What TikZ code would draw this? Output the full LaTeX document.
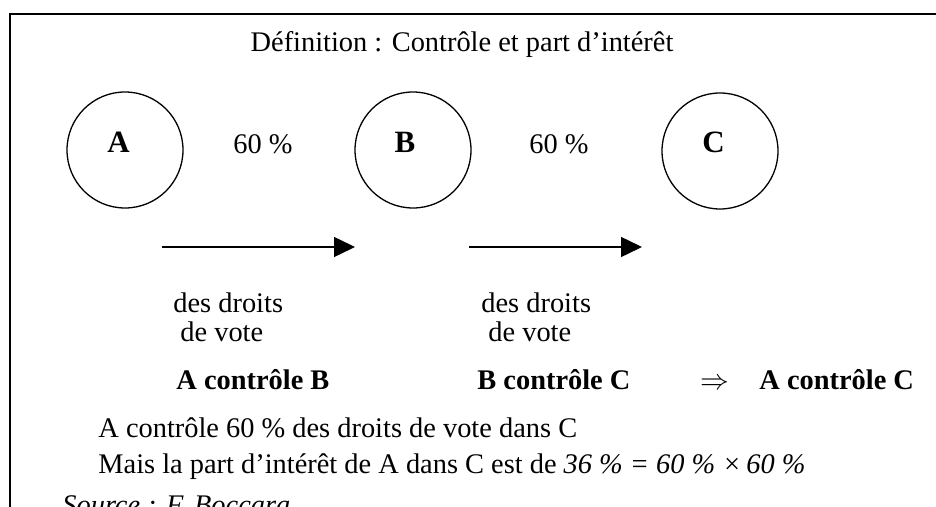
\documentclass[tikz,border=0pt]{standalone}
\usepackage{fontspec}
\setmainfont{Liberation Serif}
\usetikzlibrary{arrows.meta}
\begin{document}
\begin{tikzpicture}[x=0.5pt,y=-0.5pt,
  txt/.style={inner sep=0,font=\fontsize{14.2pt}{17pt}\selectfont},
  boldtxt/.style={inner sep=0,font=\fontsize{14.2pt}{17pt}\selectfont\bfseries},
  letter/.style={inner sep=0,font=\fontsize{15.5pt}{18pt}\selectfont\bfseries},
  circ/.style={draw,circle,minimum size=58pt,inner sep=0,line width=0.65pt},
  arr/.style={-{Triangle[length=10.5pt,width=10pt]},line width=0.75pt},
  framestyle/.style={line width=1pt}]
\useasboundingbox (0,0) rectangle (936,507);
\clip (0,0) rectangle (936,507);
% frame
\coordinate (f1) at (10,530);
\coordinate (f2) at (10,14);
\coordinate (f3) at (950,14);
\draw[framestyle] (f1) -- (f2) -- (f3);
% title
\node[txt,anchor=base] (title) at (462,52) {Définition : Contrôle et part d’intérêt};
% circles
\node[circ] (A) at (125,150) {};
\node[circ] (B) at (413,150) {};
\node[circ] (C) at (720,151) {};
\node[letter] (Alab) at (118.5,142) {A};
\node[letter] (Blab) at (405,142.5) {B};
\node[letter] (Clab) at (713.5,142) {C};
% percentages
\node[txt,anchor=base] (p1) at (263,154) {60 \%};
\node[txt,anchor=base] (p2) at (559,154) {60 \%};
% arrows
\coordinate (a1s) at (162,247);
\coordinate (a1e) at (355,247);
\coordinate (a2s) at (469,247);
\coordinate (a2e) at (642,247);
\draw[arr] (a1s) -- (a1e);
\draw[arr] (a2s) -- (a2e);
% arrow labels
\node[txt,anchor=base west] (d1) at (173,313) {des droits};
\node[txt,anchor=base west] (v1) at (180,342) {de vote};
\node[txt,anchor=base west] (d2) at (481,313) {des droits};
\node[txt,anchor=base west] (v2) at (488,342) {de vote};
% conclusions
\node[boldtxt,anchor=base west] (c1) at (176,389) {A contrôle B};
\node[boldtxt,anchor=base west] (c2) at (477,389) {B contrôle C};
\node[txt,anchor=base] (imp) at (715,389) {$\Rightarrow$};
\node[boldtxt,anchor=base west] (c3) at (759,389) {A contrôle C};
% explanation
\node[txt,anchor=base west] (l1) at (98,437) {A contrôle 60 \% des droits de vote dans C};
\node[txt,anchor=base west] (l2) at (98,473) {Mais la part d’intérêt de A dans C est de \textit{36 \% = 60 \% ×\,60 \%}};
\node[txt,anchor=base west] (src) at (62,514) {\textit{Source : F. Boccara}};
\end{tikzpicture}
\end{document}
